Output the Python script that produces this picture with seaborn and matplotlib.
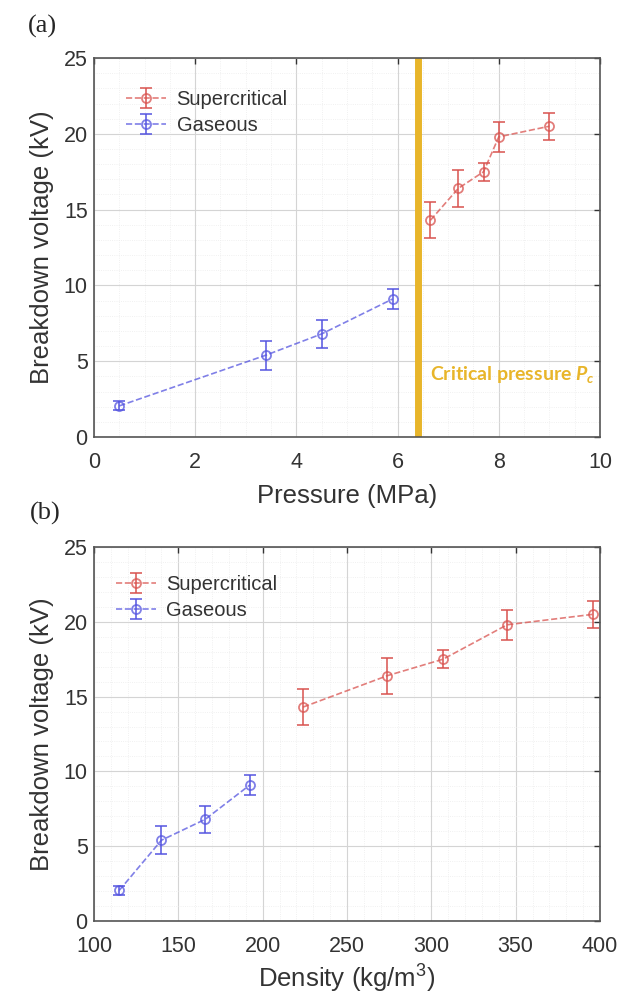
import matplotlib
matplotlib.use('Agg')
import matplotlib.pyplot as plt
import numpy as np
import pandas as pd
import seaborn as sns
from matplotlib.ticker import MultipleLocator

# panel (a): breakdown voltage vs pressure
gas_p = [0.5, 3.4, 4.5, 5.9]
gas_v = [2.05, 5.4, 6.8, 9.1]
gas_err = [0.3, 0.95, 0.9, 0.65]
sc_p = [6.65, 7.2, 7.7, 8.0, 9.0]
sc_v = [14.3, 16.4, 17.5, 19.8, 20.5]
sc_err = [1.2, 1.2, 0.6, 1.0, 0.9]
p_crit = 6.4

# panel (b): breakdown voltage vs density
gas_rho = [115, 140, 166, 192.5]
sc_rho = [224, 274, 307, 345, 396]

red = '#d9534f'
blue = '#5555e0'
gold = '#e8b52a'

sns.set_theme(style='white')
plt.rcParams['font.family'] = ['Liberation Sans', 'DejaVu Sans']
plt.rcParams['mathtext.fontset'] = 'custom'
plt.rcParams['mathtext.rm'] = 'Liberation Sans'
plt.rcParams['mathtext.it'] = 'Lato:italic:bold'

fig = plt.figure(figsize=(6.41, 9.97), dpi=100)
ax_a = fig.add_axes([0.1466, 0.5617, 0.7894, 0.3801])
ax_b = fig.add_axes([0.1466, 0.0762, 0.7894, 0.3752])


def draw(ax, x, y, err, color):
    df = pd.DataFrame({'x': x, 'y': y})
    sns.lineplot(data=df, x='x', y='y', ax=ax, color=color, linestyle='--',
                 linewidth=1.2, marker='o', markersize=6.5, markerfacecolor='none',
                 markeredgecolor=color, markeredgewidth=1.3, alpha=0.75,
                 legend=False, sort=False)
    ln = ax.lines[-1]
    eb = ax.errorbar(x, y, yerr=err, fmt='none', ecolor=color, elinewidth=1.3,
                     capsize=4, capthick=1.3, alpha=0.85)
    return (ln, eb)


def style(ax, xlim, xmajor, xminor, xlabel, xlabelpad):
    ax.set_xlim(*xlim)
    ax.set_ylim(0, 25)
    ax.xaxis.set_major_locator(MultipleLocator(xmajor))
    ax.xaxis.set_minor_locator(MultipleLocator(xminor))
    ax.yaxis.set_major_locator(MultipleLocator(5))
    ax.yaxis.set_minor_locator(MultipleLocator(1))
    ax.grid(which='major', color='#d4d4d4', linewidth=0.8)
    ax.grid(which='minor', color='#ececec', linewidth=0.6, linestyle=':')
    ax.set_axisbelow(True)
    ax.tick_params(which='major', direction='in', length=4, width=1,
                   top=True, right=True, labelsize=15.5, colors='#333333')
    ax.tick_params(axis='x', which='major', pad=11)
    ax.tick_params(axis='y', which='major', pad=4.5)
    ax.tick_params(which='minor', length=0)
    for s in ax.spines.values():
        s.set_color('#555555')
        s.set_linewidth(1.2)
    ax.set_xlabel(xlabel, fontsize=18.5, color='#333333', labelpad=xlabelpad)
    ax.set_ylabel('Breakdown voltage (kV)', fontsize=18.5, color='#333333',
                  labelpad=7)


# (a)
h_sc = draw(ax_a, sc_p, sc_v, sc_err, red)
h_gas = draw(ax_a, gas_p, gas_v, gas_err, blue)
ax_a.axvline(p_crit, color=gold, linewidth=5, zorder=1)
ax_a.text(6.65, 4.1, 'Critical pressure $P_c$', color=gold, fontsize=14,
          fontweight='bold', family=['Lato', 'DejaVu Sans'],
          va='center', ha='left')
style(ax_a, (0, 10), 2, 0.5, 'Pressure (MPa)', 8)
ax_a.legend([h_sc, h_gas], ['Supercritical', 'Gaseous'], loc='upper left',
            frameon=False, fontsize=14.5, handlelength=2.0, handletextpad=0.5,
            borderaxespad=1.2, labelspacing=0.35, labelcolor='#333333')

# (b)
h_sc = draw(ax_b, sc_rho, sc_v, sc_err, red)
h_gas = draw(ax_b, gas_rho, gas_v, gas_err, blue)
style(ax_b, (100, 400), 50, 10, 'Density (kg/m$^3$)', 4)
ax_b.legend([h_sc, h_gas], ['Supercritical', 'Gaseous'], loc='upper left',
            bbox_to_anchor=(0.0, 0.984), frameon=False, fontsize=14.5,
            handlelength=2.0, handletextpad=0.5, borderaxespad=0.7,
            labelspacing=0.35, labelcolor='#333333')

fig.text(28 / 641, 1 - 26 / 997, '(a)', family='Liberation Serif', fontsize=19,
         va='center', ha='left')
fig.text(30 / 641, 1 - 513 / 997, '(b)', family='Liberation Serif', fontsize=19,
         va='center', ha='left')

fig.savefig('out.png', dpi=100)
